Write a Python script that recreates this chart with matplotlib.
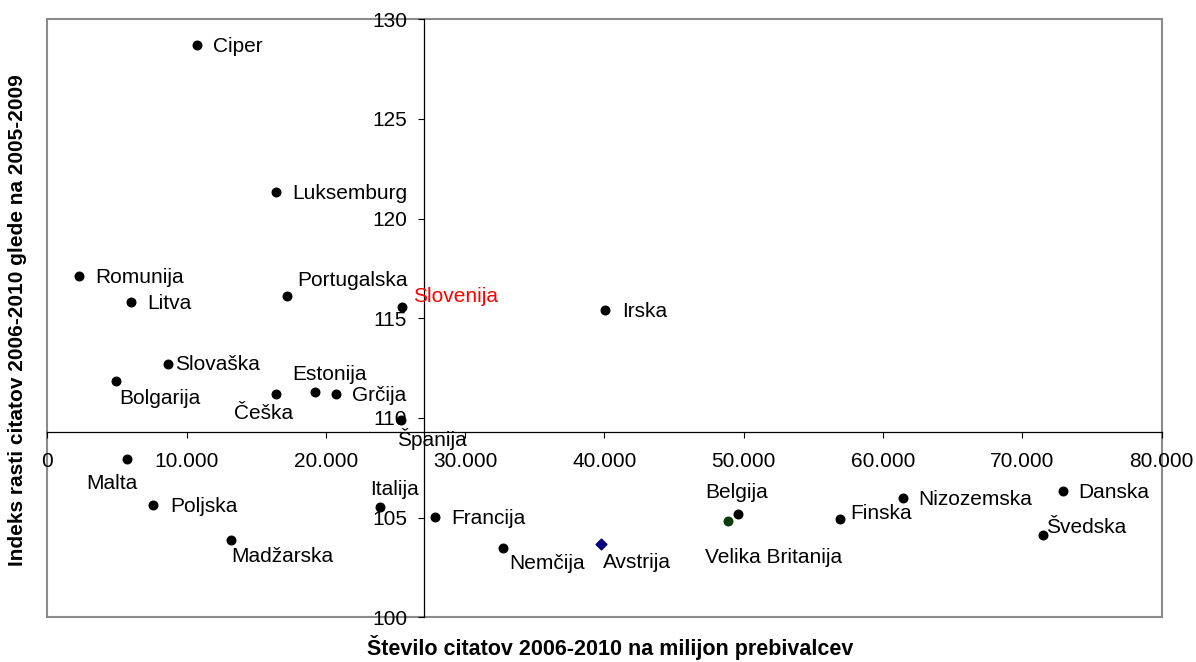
import matplotlib
matplotlib.use('Agg')
import matplotlib.pyplot as plt
from matplotlib.patches import Rectangle
from matplotlib.ticker import FuncFormatter

plt.rcParams['font.family'] = ['Liberation Sans', 'DejaVu Sans']

# data
countries = ['Ciper', 'Luksemburg', 'Romunija', 'Litva', 'Portugalska', 'Slovenija',
             'Irska', 'Slovaška', 'Bolgarija', 'Češka', 'Estonija', 'Grčija', 'Španija',
             'Malta', 'Poljska', 'Madžarska', 'Italija', 'Francija', 'Nemčija',
             'Avstrija', 'Velika Britanija', 'Belgija', 'Finska', 'Nizozemska',
             'Danska', 'Švedska']
citations = [10770, 16440, 2280, 6010, 17230, 25440,
             40040, 8640, 4950, 16440, 19240, 20750, 25390,
             5740, 7610, 13190, 23860, 27830, 32690,
             39730, 48870, 49590, 56890, 61430,
             72890, 71500]
growth_index = [128.72, 121.32, 117.11, 115.80, 116.14, 115.57,
                115.40, 112.73, 111.84, 111.21, 111.28, 111.21, 109.89,
                107.95, 105.61, 103.89, 105.51, 105.03, 103.49,
                103.69, 104.81, 105.18, 104.94, 106.00,
                106.35, 104.14]

eu_citations = 27050   # where the vertical axis crosses
eu_index = 109.3       # where the horizontal axis crosses

x_ticks = [0, 10000, 20000, 30000, 40000, 50000, 60000, 70000, 80000]
y_ticks = [100, 105, 110, 115, 120, 125, 130]

# label placement: offset of text (left edge, vertical centre) from the dot, in pixels (down = +)
label_offsets = {
    'Ciper': (16, 0), 'Luksemburg': (16, 0), 'Romunija': (16, 0), 'Litva': (16, 0),
    'Portugalska': (10, -17), 'Slovenija': (11, -12), 'Irska': (17, 0),
    'Slovaška': (7, -1), 'Bolgarija': (3, 16), 'Češka': (-42, 18),
    'Estonija': (-23, -19), 'Grčija': (16, 0), 'Španija': (-4, 19),
    'Malta': (-41, 23), 'Poljska': (17, 0), 'Madžarska': (0, 15),
    'Italija': (-10, -19), 'Francija': (16, 0), 'Nemčija': (7, 14),
    'Avstrija': (2, 17), 'Velika Britanija': (-23, 35), 'Belgija': (-33, -23),
    'Finska': (11, -7), 'Nizozemska': (15, 0), 'Danska': (16, 0), 'Švedska': (3, -9),
}

fig = plt.figure(figsize=(11.96, 6.62), dpi=100)
ax = fig.add_axes([0.0396, 0.0675, 0.9316, 0.9033])

for name, cx, cy in zip(countries, citations, growth_index):
    if name == 'Avstrija':
        ax.scatter(cx, cy, marker='D', s=30, color='#000080', zorder=3)
    elif name == 'Velika Britanija':
        ax.scatter(cx, cy, marker='o', s=38, color='#0a3d0a', zorder=3)
    else:
        ax.scatter(cx, cy, marker='o', s=38, color='black', zorder=3)
    dx, dy = label_offsets[name]
    ax.annotate(name, (cx, cy), xytext=(dx, -(dy + 7)), textcoords='offset pixels',
                ha='left', va='baseline', fontsize=15,
                color='red' if name == 'Slovenija' else 'black')

ax.set_xlim(0, 80000)
ax.set_ylim(100, 130)
ax.set_xticks(x_ticks)
ax.set_yticks(y_ticks)
ax.xaxis.set_major_formatter(FuncFormatter(lambda v, p: f"{int(v):,}".replace(',', '.')))

# axes crossing at EU values
ax.spines['left'].set_position(('data', eu_citations))
ax.spines['bottom'].set_position(('data', eu_index))
ax.spines['top'].set_visible(False)
ax.spines['right'].set_visible(False)
for s in ('left', 'bottom'):
    ax.spines[s].set_linewidth(0.9)
    ax.spines[s].set_color('black')
ax.tick_params(axis='both', direction='out', length=4.3, width=0.8, labelsize=15)
ax.tick_params(axis='x', pad=10.5)
ax.tick_params(axis='y', pad=8)

# grey plot-area border
ax.add_patch(Rectangle((0, 0), 1, 1, transform=ax.transAxes, fill=False,
                       edgecolor='#8a8a8a', linewidth=1.5, clip_on=False, zorder=0))

fig.text(18 / 1196, 1 - 320 / 662, 'Indeks rasti citatov 2006-2010 glede na 2005-2009',
         rotation=90, ha='center', va='center', fontsize=15, fontweight='bold')
fig.text(610 / 1196, 1 - 647 / 662, 'Število citatov 2006-2010 na milijon prebivalcev',
         ha='center', va='center', fontsize=15.5, fontweight='bold')

fig.savefig('out.png', dpi=100)
